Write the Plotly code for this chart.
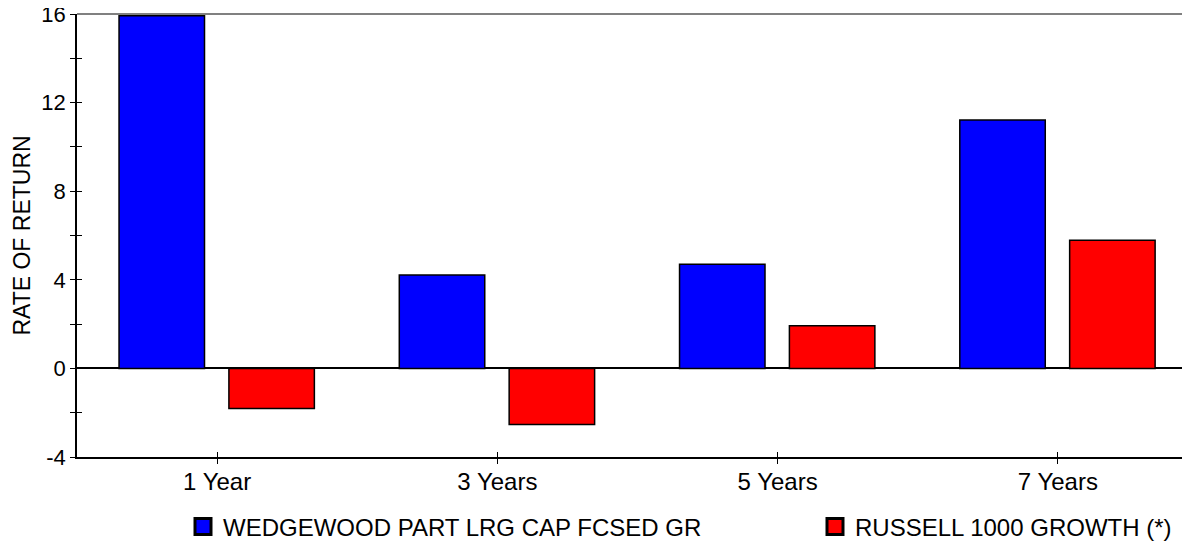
import plotly.graph_objects as go

categories = ["1 Year", "3 Years", "5 Years", "7 Years"]
fund_name = "WEDGEWOOD PART LRG CAP FCSED GR"
bench_name = "RUSSELL 1000 GROWTH (*)"
fund_values = [15.92, 4.22, 4.70, 11.21]
bench_values = [-1.81, -2.53, 1.93, 5.78]
y_tick_values = [-4, -2, 0, 2, 4, 6, 8, 10, 12, 14, 16]
y_tick_labels = ["-4", "", "0", "", "4", "", "8", "", "12", "", "16"]

FONT = "Liberation Sans, Arial, sans-serif"
BLUE = "#0000FF"
RED = "#FF0000"

fig = go.Figure()
fig.add_trace(go.Bar(x=categories, y=fund_values, width=0.305, offset=-0.35,
                     marker=dict(color=BLUE, line=dict(color="black", width=1.5)),
                     showlegend=False, name=fund_name))
fig.add_trace(go.Bar(x=categories, y=bench_values, width=0.305, offset=0.042,
                     marker=dict(color=RED, line=dict(color="black", width=1.5)),
                     showlegend=False, name=bench_name))
# invisible trace to carry the overlay axes (inside half of crossing ticks)
fig.add_trace(go.Scatter(x=categories, y=fund_values, xaxis="x2", yaxis="y2",
                         mode="markers", marker=dict(opacity=0), showlegend=False,
                         hoverinfo="skip"))
# legend entries
fig.add_trace(go.Scatter(x=[None], y=[None], mode="markers", name=fund_name,
                         legend="legend",
                         marker=dict(symbol="square", size=16, color=BLUE,
                                     line=dict(color="black", width=3))))
fig.add_trace(go.Scatter(x=[None], y=[None], mode="markers", name=bench_name,
                         legend="legend2",
                         marker=dict(symbol="square", size=16, color=RED,
                                     line=dict(color="black", width=3))))

xr = [-0.5, 3.5]
yr = [-4, 16]
legend_common = dict(orientation="h", xref="container", yref="container",
                     xanchor="left", yanchor="middle", font=dict(size=24),
                     bgcolor="rgba(0,0,0,0)", itemclick=False)

fig.update_layout(
    width=1190, height=544,
    margin=dict(l=69, r=0, t=6, b=95, autoexpand=False),
    plot_bgcolor="white", paper_bgcolor="white",
    barmode="overlay",
    font=dict(family=FONT, size=23, color="black"),
    xaxis=dict(type="category", categoryarray=categories, range=xr, automargin=False,
               showgrid=False, zeroline=False, showline=True, linecolor="black", linewidth=1.5,
               ticks="outside", ticklen=5, tickcolor="black", tickwidth=1,
               tickfont=dict(size=24), ticklabelstandoff=-3),
    yaxis=dict(range=yr, tickvals=y_tick_values, ticktext=y_tick_labels, automargin=False,
               showgrid=False, zeroline=True, zerolinecolor="black", zerolinewidth=1.5,
               showline=True, linecolor="black", linewidth=1.5,
               ticks="outside", ticklen=5, tickcolor="black", tickwidth=1,
               tickfont=dict(size=22), ticklabeloverflow="allow",
               title=dict(text="RATE OF RETURN", font=dict(size=23), standoff=4)),
    xaxis2=dict(type="category", categoryarray=categories, range=xr, overlaying="x",
                anchor="y2", side="bottom", showgrid=False, zeroline=False, showline=False,
                ticks="inside", ticklen=5, tickcolor="black", tickwidth=1,
                showticklabels=False, automargin=False),
    yaxis2=dict(range=yr, tickvals=y_tick_values, overlaying="y", anchor="x2", side="left",
                showgrid=False, zeroline=False, showline=False,
                ticks="inside", ticklen=5, tickcolor="black", tickwidth=1,
                showticklabels=False, automargin=False),
    legend=dict(x=175 / 1190, y=1 - 519 / 544, **legend_common),
    legend2=dict(x=807 / 1190, y=1 - 519 / 544, **legend_common),
    shapes=[dict(type="line", xref="paper", yref="paper", x0=0, x1=1, y0=1, y1=1,
                 line=dict(color="#808080", width=2))],
    hovermode=False,
)

fig.write_html("out.html")
